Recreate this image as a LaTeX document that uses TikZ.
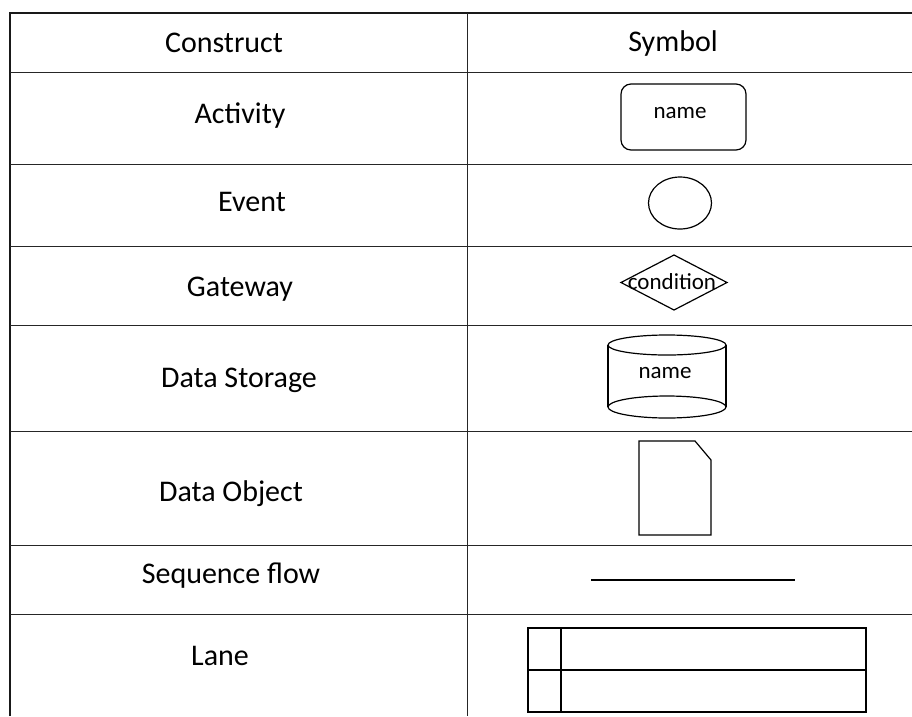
\documentclass[tikz,border=0pt]{standalone}
\usepackage{fontspec}
\setmainfont{Carlito}
\begin{document}
\begin{tikzpicture}[x=1pt,y=1pt,
  rule/.style={line width=1pt,draw=black!85},
  frame/.style={line width=1.4pt,draw=black!90},
  sym/.style={line width=1.2pt,draw=black},
  label/.style={anchor=base,inner sep=0pt,font=\fontsize{30}{36}\selectfont},
  small/.style={anchor=base,inner sep=0pt,font=\fontsize{23}{27}\selectfont}]
\useasboundingbox (0,0) rectangle (912,-716);
\fill[white] (0,0) rectangle (912,-716);

% table rules
\draw[frame] (10,-716) -- (10,-13) -- (912,-13);
\draw[rule] (467,-13) -- (467,-716);
\foreach \y in {72,164,246,325,431,545,614}
  \draw[rule] (10,-\y) -- (912,-\y);

% header and construct names
\node[label] (hcon) at (224,-52) {Construct};
\node[label] (hsym) at (673,-51) {Symbol};
\node[label] (tact) at (240,-123) {Activity};
\node[label] (tevt) at (252,-211) {Event};
\node[label] (tgw)  at (240,-296) {Gateway};
\node[label] (tds)  at (239,-387) {Data Storage};
\node[label] (tdo)  at (231,-501) {Data Object};
\node[label] (tsf)  at (231,-583) {Sequence flow};
\node[label] (tln)  at (220,-665) {Lane};

% activity
\draw[sym,rounded corners=10pt] (621,-84) rectangle (746,-150);
\node[small] (sact) at (680,-118) {name};

% event
\draw[sym] (680,-203) ellipse [x radius=31.5, y radius=26];

% gateway
\draw[sym] (621,-282.5) -- (674,-255) -- (727,-282.5) -- (674,-310) -- cycle;
\node[small] (sgw) at (672,-289) {condition};

% data storage
\draw[sym] (608,-345) -- (608,-407);
\draw[sym] (726,-345) -- (726,-407);
\draw[sym] (667,-345) ellipse [x radius=59, y radius=10];
\draw[sym] (667,-407) ellipse [x radius=59, y radius=11];
\node[small] (sds) at (665,-378) {name};

% data object
\draw[sym] (639,-441) -- (695,-441) -- (711,-460) -- (711,-535) -- (639,-535) -- cycle;

% sequence flow
\draw[line width=2pt] (591,-580) -- (795,-580);

% lane
\draw[line width=1.8pt] (528,-628) rectangle (866,-712);
\draw[line width=1.8pt] (528,-670) -- (866,-670);
\draw[line width=1.4pt] (561,-628) -- (561,-712);
\end{tikzpicture}
\end{document}
